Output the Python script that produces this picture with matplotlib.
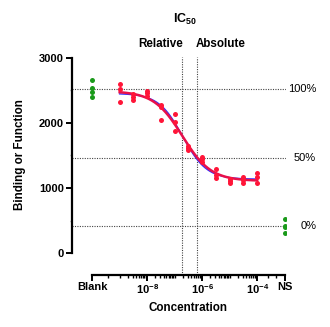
import numpy as np
import matplotlib
matplotlib.use('Agg')
import matplotlib.pyplot as plt
from matplotlib.transforms import blended_transform_factory

plt.rcParams['font.family'] = ['Liberation Sans', 'DejaVu Sans']
plt.rcParams['mathtext.fontset'] = 'custom'
plt.rcParams['mathtext.rm'] = 'Liberation Sans'
plt.rcParams['mathtext.bf'] = 'Liberation Sans:bold'

# Data (log10 molar concentration, triplicates)
log_conc = [-9, -8.5, -8, -7.5, -7, -6.5, -6, -5.5, -5, -4.5, -4]
rep1 = [2597, 2443, 2494, 2275, 2132, 1646, 1472, 1288, 1144, 1166, 1227]
rep2 = [2515, 2402, 2454, 2239, 2018, 1610, 1442, 1201, 1113, 1124, 1166]
rep3 = [2316, 2351, 2413, 2044, 1876, 1584, 1405, 1150, 1074, 1074, 1083]
blank = [2664, 2530, 2469, 2402]
ns = [521, 414, 400, 316]
blank_x = -10
ns_x = -3
xtick_pos = [-10, -8, -6, -4, -3]
xtick_labels = ['Blank', '$\\mathbf{10^{-8}}$', '$\\mathbf{10^{-6}}$',
                '$\\mathbf{10^{-4}}$', 'NS']


def fit4pl(x, y, hills):
    # grid search over logIC50 and slope, top/bottom solved linearly
    cs = np.linspace(-8.5, -4.5, 401)
    C, H = np.meshgrid(cs, hills)
    S = 1 / (1 + 10 ** ((C[..., None] - x) * H[..., None]))
    U = 1 - S
    a11 = (U * U).sum(-1)
    a12 = (U * S).sum(-1)
    a22 = (S * S).sum(-1)
    b1 = (U * y).sum(-1)
    b2 = (S * y).sum(-1)
    det = a11 * a22 - a12 ** 2
    bot = (a22 * b1 - a12 * b2) / det
    top = (a11 * b2 - a12 * b1) / det
    res = ((bot[..., None] * U + top[..., None] * S - y) ** 2).sum(-1)
    i = np.unravel_index(np.argmin(res), res.shape)
    return bot[i], top[i], C[i], H[i]


def curve(x, bot, top, c, h):
    return bot + (top - bot) / (1 + 10 ** ((c - x) * h))


x_all = np.array(log_conc * 3, dtype=float)
y_all = np.array(rep1 + rep2 + rep3, dtype=float)

fit_var = fit4pl(x_all, y_all, np.linspace(-2.5, -0.3, 221))
fit_fix = fit4pl(x_all, y_all, np.array([-1.0]))

y100 = np.mean(blank)
y0 = np.mean(ns)
y50 = (y100 + y0) / 2
bot, top, c_rel, h = fit_var
s50 = (y50 - bot) / (top - bot)
c_abs = c_rel - np.log10(1 / s50 - 1) / h

fig = plt.figure(figsize=(3.3, 3.27), dpi=100)
ax = fig.add_axes([0.2167, 0.160, 0.651, 0.6657])

dots = dict(color='#444444', lw=0.8, ls=(0, (1, 1.2)), zorder=1)
for yv in (y100, y50, y0):
    ax.axhline(yv, **dots)
for xv in (c_rel, c_abs):
    ax.axvline(xv, **dots)

xx = np.linspace(-9, -4, 300)
ax.plot(xx, curve(xx, *fit_fix), color='#3030ff', lw=1.0, zorder=2)
ax.plot(xx, curve(xx, *fit_var), color='#e8104a', lw=1.8, zorder=3)

for rep in (rep1, rep2, rep3):
    ax.plot(log_conc, rep, 'o', color='#ff1538', ms=3.6, mew=0, zorder=4)
ax.plot([blank_x] * len(blank), blank, 'o', color='#1a9a1a', ms=3.6, mew=0, zorder=4)
ax.plot([ns_x] * len(ns), ns, 'o', color='#1a9a1a', ms=3.6, mew=0, zorder=4)

ax.set_xlim(-10.75, -2.94)
ax.set_ylim(-328, 3010)

for s in ('top', 'right'):
    ax.spines[s].set_visible(False)
ax.spines['left'].set_bounds(0, 3000)
ax.spines['bottom'].set_bounds(-10, -3)
ax.spines['left'].set_linewidth(1.6)
ax.spines['bottom'].set_linewidth(1.6)

ax.set_yticks([0, 1000, 2000, 3000])
ax.set_yticks([500, 1500, 2500], minor=True)
ax.set_xticks(xtick_pos)
ax.set_xticklabels(xtick_labels)
minor_x = [-9.43] + [d + np.log10(k) for d in range(-9, -4) for k in range(1, 10)] + [-3.6, -3.3]
ax.set_xticks([m for m in minor_x if m not in xtick_pos], minor=True)

ax.tick_params(axis='both', which='major', length=4, width=1.4, labelsize=8, pad=1.5)
ax.tick_params(axis='both', which='minor', length=2.2, width=1.0)
ax.tick_params(axis='y', which='minor', length=1.5, color='#999999')
for lab in ax.get_xticklabels() + ax.get_yticklabels():
    lab.set_fontweight('bold')

# percent labels on the right
tr = blended_transform_factory(fig.transFigure, ax.transData)
for yv, txt in ((y100, '100%'), (y50, '50%'), (y0, '0%')):
    ax.text(0.958, yv, txt, transform=tr, ha='right', va='center', fontsize=8)

trx = blended_transform_factory(ax.transData, ax.transAxes)
ax.annotate('Relative', (c_rel, 1.06), xycoords=trx, xytext=(1, 0),
            textcoords='offset pixels', ha='right', va='center',
            fontsize=8.4, fontweight='bold')
ax.annotate('Absolute', (c_abs, 1.06), xycoords=trx, xytext=(-2, 0),
            textcoords='offset pixels', ha='left', va='center',
            fontsize=8.4, fontweight='bold')

fig.text(0.56, 0.939, 'IC$_{\\mathbf{50}}$', ha='center', va='center',
         fontsize=9, fontweight='bold')
fig.text(0.06, 0.526, 'Binding or Function', rotation=90, ha='center',
         va='center', fontsize=8.4, fontweight='bold')
fig.text(0.57, 0.058, 'Concentration', ha='center', va='center',
         fontsize=8.4, fontweight='bold')

fig.savefig('out.png', dpi=100)
